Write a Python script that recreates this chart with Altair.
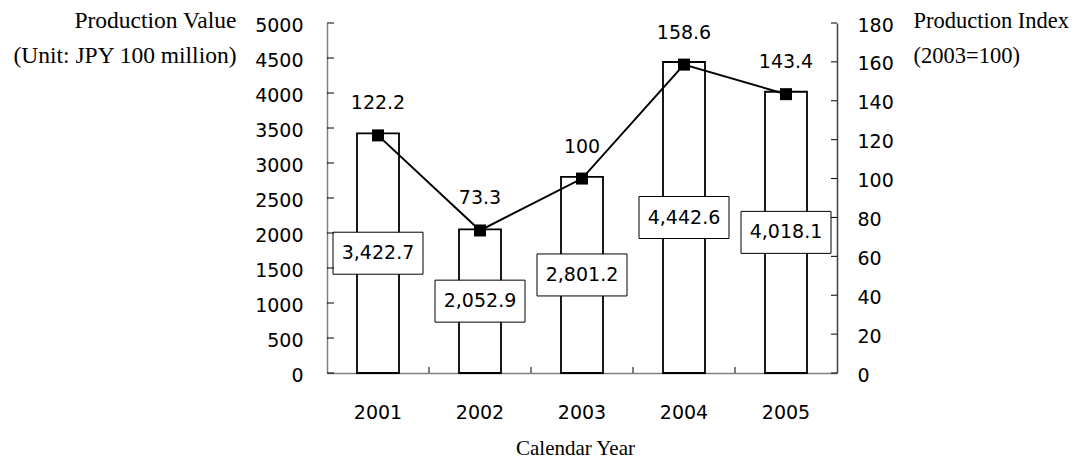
import altair as alt
import pandas as pd

years = ["2001", "2002", "2003", "2004", "2005"]
values = [3422.7, 2052.9, 2801.2, 4442.6, 4018.1]
index_vals = [122.2, 73.3, 100, 158.6, 143.4]
value_labels = ["3,422.7", "2,052.9", "2,801.2", "4,442.6", "4,018.1"]
index_labels = ["122.2", "73.3", "100", "158.6", "143.4"]
left_ticks = list(range(0, 5001, 500))
right_ticks = list(range(0, 181, 20))

df = pd.DataFrame({
    "year": years,
    "value": values,
    "mid": [v / 2 for v in values],
    "vlabel": value_labels,
    "index": index_vals,
    "ilabel": index_labels,
})
left_tick_df = pd.DataFrame({"tick": left_ticks})
right_tick_df = pd.DataFrame({"tick": right_ticks})
band_df = pd.DataFrame({"year": years[1:]})

NUM = "DejaVu Sans"
SERIF = "Liberation Serif"
W, H = 510, 350

xscale = alt.Scale(paddingInner=0, paddingOuter=0, domain=years)
xaxis = alt.Axis(
    title="Calendar Year", labelAngle=0, ticks=False, tickSize=0,
    labelPadding=30, labelFont=NUM, labelFontSize=19, labelColor="black",
    titleFont=SERIF, titleFontSize=21, titleFontWeight="normal", titleColor="black",
    titleBaseline="alphabetic", titleAlign="center", titleX=248, titleY=81,
    domainColor="#808080", domainWidth=1.5, grid=False,
)
X = alt.X("year:N", scale=xscale, axis=xaxis)

lscale = alt.Scale(domain=[0, 5000])
laxis = alt.Axis(
    title=["Production Value", "(Unit: JPY 100 million)"], titleAngle=0,
    titleAlign="right", titleBaseline="alphabetic", titleX=-91, titleY=4,
    titleLineHeight=35, titleFont=SERIF, titleFontSize=23.5, titleFontWeight="normal",
    titleColor="black", values=left_ticks, ticks=False, tickSize=0, labelPadding=24,
    labelFont=NUM, labelFontSize=19, labelColor="black", domainColor="#808080",
    domainWidth=1.5, grid=False, format="d", labelOffset=2,
)
rscale = alt.Scale(domain=[0, 180])
raxis = alt.Axis(
    orient="right",
    title=["Production Index", "(2003=100)"], titleAngle=0,
    titleAlign="left", titleBaseline="alphabetic", titleX=76, titleY=4,
    titleLineHeight=35, titleFont=SERIF, titleFontSize=22.5, titleFontWeight="normal",
    titleColor="black", values=right_ticks, ticks=False, tickSize=0, labelPadding=20,
    labelFont=NUM, labelFontSize=19, labelColor="black", domainColor="#404040",
    domainWidth=1.5, grid=False, format="d", labelOffset=2,
)

bars = alt.Chart(df).mark_bar(fill="white", stroke="black", strokeWidth=1.8, size=42).encode(
    x=X, y=alt.Y("value:Q", scale=lscale, axis=laxis)
)
boxes = alt.Chart(df).mark_point(
    shape="M-1,-0.4667H1V0.4667H-1Z", size=8100, filled=True, fill="white",
    stroke="black", strokeWidth=1, opacity=1,
).encode(x=X, y=alt.Y("mid:Q", scale=lscale, axis=laxis))
box_text = alt.Chart(df).mark_text(font=NUM, fontSize=19, color="black").encode(
    x=X, y=alt.Y("mid:Q", scale=lscale, axis=laxis), text="vlabel:N"
)
lticks = alt.Chart(left_tick_df).mark_rule(color="black", strokeWidth=1).encode(
    y=alt.Y("tick:Q", scale=lscale, axis=laxis), x=alt.value(0), x2=alt.value(7)
)
xticks = alt.Chart(band_df).mark_rule(color="black", strokeWidth=1).encode(
    x=alt.X("year:N", scale=xscale, axis=xaxis, bandPosition=0),
    y=alt.value(H - 6), y2=alt.value(H),
)
left = alt.layer(bars, boxes, box_text, lticks, xticks)

line = alt.Chart(df).mark_line(color="black", strokeWidth=2).encode(
    x=X, y=alt.Y("index:Q", scale=rscale, axis=raxis)
)
pts = alt.Chart(df).mark_square(size=144, color="black", filled=True, opacity=1).encode(
    x=X, y=alt.Y("index:Q", scale=rscale, axis=raxis)
)
idx_text = alt.Chart(df).mark_text(font=NUM, fontSize=19, color="black", dy=-32).encode(
    x=X, y=alt.Y("index:Q", scale=rscale, axis=raxis), text="ilabel:N"
)
rticks = alt.Chart(right_tick_df).mark_rule(color="black", strokeWidth=1).encode(
    y=alt.Y("tick:Q", scale=rscale, axis=raxis), x=alt.value(W - 6), x2=alt.value(W)
)
right = alt.layer(line, pts, idx_text, rticks)

chart = alt.layer(left, right).resolve_scale(y="independent").properties(
    width=W, height=H,
    autosize=alt.AutoSizeParams(type="none"),
    padding={"left": 319, "top": 15, "right": 238, "bottom": 86},
    background="white",
).configure_view(stroke=None)

chart.save("out.html", embed_options={"renderer": "svg", "actions": False})
